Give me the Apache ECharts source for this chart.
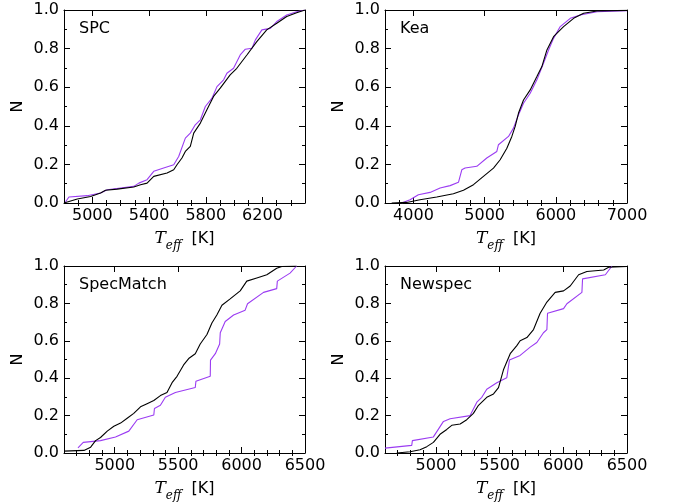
<!DOCTYPE html>
<html>
<head>
<meta charset="utf-8">
<script src="https://cdn.jsdelivr.net/npm/echarts@6/dist/echarts.min.js"></script>
<style>
html,body{margin:0;padding:0;background:#fff;}
#chart{width:673px;height:503px;}
</style>
</head>
<body>
<div id="chart"></div>
<script>
// ---------- panel titles ----------
const panelNames = ['SPC', 'Kea', 'SpecMatch', 'Newspec'];

// ---------- axis ranges & ticks ----------
const xMins = [4800, 3600, 4600, 4600];
const xMaxs = [6500, 7000, 6500, 6500];
const xMajorTicks = [
  [5000, 5400, 5800, 6200],
  [4000, 5000, 6000, 7000],
  [5000, 5500, 6000, 6500],
  [5000, 5500, 6000, 6500]
];
const xMinorSteps = [100, 200, 100, 100];
const yTicks = [0.0, 0.2, 0.4, 0.6, 0.8, 1.0];

// ---------- SPC ----------
const spcBlackT = [4800,4894,4988,5058,5093,5175,5292,5340,5386,5433,5527,5574,5597,5632,5656,5691,5715,5762,5808,5855,5902,5972,6019,6090,6160,6230,6301,6371,6441,6500];
const spcBlackN = [0,0.021,0.034,0.052,0.066,0.072,0.083,0.095,0.103,0.138,0.155,0.172,0.198,0.233,0.267,0.293,0.362,0.414,0.483,0.552,0.595,0.664,0.698,0.767,0.836,0.897,0.931,0.966,0.986,1.0];
const spcPurpleT = [4810,4835,4964,5058,5105,5292,5328,5386,5433,5503,5574,5609,5656,5691,5726,5762,5797,5844,5879,5926,5949,5996,6043,6079,6126,6150,6196,6255,6301,6371,6441,6500];
const spcPurpleN = [0.005,0.031,0.038,0.052,0.069,0.086,0.103,0.121,0.164,0.181,0.198,0.241,0.336,0.362,0.405,0.431,0.5,0.543,0.603,0.638,0.672,0.698,0.767,0.797,0.802,0.845,0.897,0.905,0.940,0.974,0.991,1.0];

// ---------- Kea ----------
const keaBlackT = [3694,3905,4092,4327,4561,4702,4843,4983,5124,5218,5312,5382,5429,5476,5546,5640,5734,5804,5875,5968,6109,6250,6390,6578,7000];
const keaBlackN = [0,0.003,0.017,0.031,0.048,0.066,0.095,0.138,0.181,0.224,0.284,0.345,0.397,0.466,0.534,0.586,0.655,0.707,0.793,0.862,0.914,0.957,0.983,0.995,0.998];
const keaPurpleT = [3834,3952,4069,4233,4374,4515,4632,4679,4725,4890,5030,5171,5194,5335,5405,5476,5546,5640,5734,5827,5898,5968,6062,6203,6343,6578,7000];
const keaPurpleN = [0,0.017,0.043,0.055,0.078,0.090,0.107,0.172,0.181,0.190,0.233,0.267,0.302,0.345,0.388,0.457,0.517,0.569,0.638,0.724,0.793,0.853,0.914,0.957,0.974,0.991,0.997];

// ---------- SpecMatch ----------
const smBlackT = [4600,4757,4810,4849,4888,4941,4993,5046,5098,5150,5203,5255,5308,5360,5412,5452,5491,5543,5583,5635,5674,5727,5766,5805,5845,5910,5989,6041,6120,6199,6277,6317,6434];
const smBlackN = [0.010,0.014,0.031,0.066,0.083,0.117,0.143,0.160,0.186,0.212,0.247,0.264,0.281,0.307,0.324,0.376,0.410,0.471,0.505,0.531,0.583,0.634,0.695,0.738,0.790,0.824,0.867,0.919,0.936,0.953,0.988,0.997,1.0];
const smPurpleT = [4710,4752,4888,5006,5111,5177,5308,5313,5360,5399,5478,5635,5640,5753,5755,5793,5827,5832,5871,5937,6028,6047,6173,6277,6282,6382,6434];
const smPurpleN = [0.028,0.057,0.066,0.086,0.117,0.178,0.203,0.238,0.255,0.298,0.324,0.350,0.384,0.410,0.497,0.531,0.583,0.643,0.703,0.738,0.764,0.798,0.859,0.879,0.919,0.962,1.0];

// ---------- Newspec ----------
const nsBlackT = [4692,4797,4875,4928,4980,5032,5085,5124,5190,5242,5294,5334,5399,5452,5491,5530,5583,5635,5661,5714,5766,5818,5871,5936,6002,6054,6120,6185,6317,6356,6500];
const nsBlackN = [0,0.007,0.017,0.034,0.057,0.1,0.126,0.148,0.155,0.178,0.212,0.255,0.298,0.316,0.350,0.445,0.531,0.574,0.6,0.617,0.660,0.747,0.807,0.859,0.867,0.893,0.953,0.971,0.979,0.993,0.997];
const nsPurpleT = [4600,4810,4815,4980,5059,5111,5268,5321,5360,5399,5478,5556,5577,5661,5740,5792,5844,5871,5876,6002,6028,6146,6151,6330,6382];
const nsPurpleN = [0.026,0.041,0.066,0.086,0.169,0.183,0.2,0.272,0.298,0.341,0.376,0.402,0.497,0.522,0.566,0.591,0.643,0.660,0.747,0.772,0.798,0.859,0.931,0.953,1.0];

const blackT = [spcBlackT, keaBlackT, smBlackT, nsBlackT];
const blackN = [spcBlackN, keaBlackN, smBlackN, nsBlackN];
const purpleT = [spcPurpleT, keaPurpleT, smPurpleT, nsPurpleT];
const purpleN = [spcPurpleN, keaPurpleN, smPurpleN, nsPurpleN];

const BLACK = '#000000';
const PURPLE = '#9b3cf2';
const FONT = 'DejaVu Sans';
const FS = 16;

const grids = [
  {left: 64, top: 10, width: 241, height: 193},
  {left: 385, top: 10, width: 242, height: 193},
  {left: 64, top: 266, width: 241, height: 193},
  {left: 385, top: 266, width: 242, height: 193}
];

function zip(a, b) { return a.map((v, i) => [v, b[i]]); }
function minorList(min, max, step, majors) {
  const out = [];
  for (let v = Math.ceil(min / step) * step; v <= max; v += step) {
    if (majors.indexOf(v) < 0 && v !== min && v !== max) out.push(v);
  }
  return out;
}

const xAxis = [], yAxis = [], series = [], title = [];
const axLine = {show: true, onZero: false, lineStyle: {color: '#000', width: 1}};

grids.forEach((g, gi) => {
  const minors = minorList(xMins[gi], xMaxs[gi], xMinorSteps[gi], xMajorTicks[gi]);
  const base = {gridIndex: gi, type: 'value', min: xMins[gi], max: xMaxs[gi], splitLine: {show: false}};
  // bottom major with labels
  xAxis.push(Object.assign({}, base, {
    position: 'bottom',
    axisLine: axLine,
    axisTick: {show: true, inside: true, length: 6, customValues: xMajorTicks[gi], lineStyle: {color: '#000', width: 1}},
    axisLabel: {customValues: xMajorTicks[gi], color: '#000', fontSize: FS, fontFamily: FONT, margin: 5, formatter: v => String(v)},
    name: '{t|T}{s|eff}{k|  [K]}',
    nameLocation: 'middle',
    nameGap: 27,
    nameTextStyle: {
      rich: {
        t: {fontFamily: 'DejaVu Serif', fontStyle: 'italic', fontSize: 17, color: '#000', verticalAlign: 'bottom'},
        s: {fontFamily: 'DejaVu Serif', fontStyle: 'italic', fontSize: 12, color: '#000', verticalAlign: 'bottom', padding: [0, 0, -5, 0]},
        k: {fontFamily: FONT, fontSize: FS, color: '#000', verticalAlign: 'bottom'}
      }
    }
  }));
  // top major ticks
  xAxis.push(Object.assign({}, base, {
    position: 'top',
    axisLine: axLine,
    axisTick: {show: true, inside: true, length: 6, customValues: xMajorTicks[gi], lineStyle: {color: '#000', width: 1}},
    axisLabel: {show: false}
  }));
  // minor ticks bottom / top
  ['bottom', 'top'].forEach(pos => {
    xAxis.push(Object.assign({}, base, {
      position: pos,
      axisLine: {show: false},
      axisTick: {show: true, inside: true, length: 3, customValues: minors, lineStyle: {color: '#000', width: 1}},
      axisLabel: {show: false}
    }));
  });
  const xBase = gi * 4;

  const ybase = {gridIndex: gi, type: 'value', min: 0, max: 1, interval: 0.2, splitLine: {show: false},
    axisLine: axLine,
    axisTick: {show: true, inside: true, length: 6, lineStyle: {color: '#000', width: 1}},
    minorTick: {show: true, splitNumber: 2, length: 3, lineStyle: {color: '#000', width: 1}}
  };
  yAxis.push(Object.assign({}, ybase, {
    position: 'left',
    axisLabel: {color: '#000', fontSize: FS, fontFamily: FONT, margin: 5, formatter: v => v.toFixed(1)},
    name: 'N', nameLocation: 'middle', nameGap: 38,
    nameTextStyle: {color: '#000', fontSize: FS, fontFamily: FONT}
  }));
  yAxis.push(Object.assign({}, ybase, {position: 'right', axisLabel: {show: false}}));
  const yBase = gi * 2;

  series.push({
    type: 'line', xAxisIndex: xBase, yAxisIndex: yBase,
    data: zip(blackT[gi], blackN[gi]), showSymbol: false, symbol: 'none',
    lineStyle: {color: BLACK, width: 1.1}, itemStyle: {color: BLACK}, animation: false, silent: true, z: 3
  });
  series.push({
    type: 'line', xAxisIndex: xBase, yAxisIndex: yBase,
    data: zip(purpleT[gi], purpleN[gi]), showSymbol: false, symbol: 'none',
    lineStyle: {color: PURPLE, width: 1.1}, itemStyle: {color: PURPLE}, animation: false, silent: true, z: 2
  });

  title.push({
    text: panelNames[gi], left: g.left + 15, top: g.top + 11, padding: 0,
    textStyle: {fontSize: FS, fontWeight: 'normal', fontFamily: FONT, color: '#000'}
  });
});

const chart = echarts.init(document.getElementById('chart'), null, {renderer: 'canvas'});
chart.setOption({
  animation: false,
  backgroundColor: '#fff',
  textStyle: {fontFamily: FONT},
  title: title,
  grid: grids,
  xAxis: xAxis,
  yAxis: yAxis,
  series: series
});
</script>
</body>
</html>
